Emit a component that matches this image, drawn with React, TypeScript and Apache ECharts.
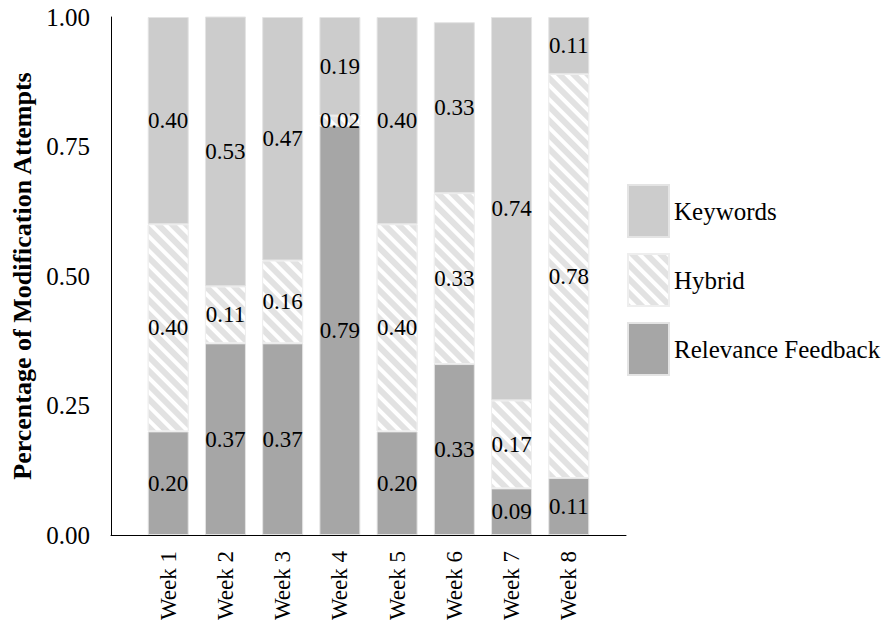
import React, { useEffect, useRef } from "react";
import * as echarts from "echarts";

const weeks = ["Week 1", "Week 2", "Week 3", "Week 4", "Week 5", "Week 6", "Week 7", "Week 8"];
const keywords = [0.4, 0.53, 0.47, 0.19, 0.4, 0.33, 0.74, 0.11];
const hybrid = [0.4, 0.11, 0.16, 0.02, 0.4, 0.33, 0.17, 0.78];
const relevanceFeedback = [0.2, 0.37, 0.37, 0.79, 0.2, 0.33, 0.09, 0.11];
const yTicks = [0, 0.25, 0.5, 0.75, 1];

const FONT = "Liberation Serif";

// blank slots either side of the weeks leave half a bar spacing at each end
const pad = <T,>(arr: T[]): (T | null)[] => [null, ...arr, null];

export default function App() {
  const ref = useRef<HTMLDivElement>(null);

  useEffect(() => {
    if (!ref.current) return;
    const chart = echarts.init(ref.current, undefined, { renderer: "svg" });

    const label = {
      show: true,
      position: "inside" as const,
      color: "#000",
      fontFamily: FONT,
      fontSize: 23,
      formatter: (p: any) => (p.value == null ? "" : Number(p.value).toFixed(2)),
    };

    chart.setOption({
      animation: false,
      backgroundColor: "#fff",
      textStyle: { fontFamily: FONT },
      grid: { left: 111, top: 17, width: 515, height: 518, containLabel: false },
      legend: {
        orient: "vertical",
        left: 627,
        top: 184,
        itemWidth: 41,
        itemHeight: 52,
        itemGap: 15,
        padding: 0,
        icon: "rect",
        data: ["Keywords", "Hybrid", "Relevance Feedback"],
        textStyle: { fontFamily: FONT, fontSize: 25, color: "#000" },
      },
      xAxis: {
        type: "category",
        boundaryGap: false,
        data: ["", ...weeks, ""],
        axisLine: { lineStyle: { color: "#000", width: 1 } },
        axisTick: { show: false },
        axisLabel: {
          interval: 0,
          rotate: 90,
          margin: 16,
          color: "#000",
          fontFamily: FONT,
          fontSize: 23,
        },
      },
      yAxis: {
        type: "value",
        min: 0,
        max: 1,
        interval: 0.25,
        name: "Percentage of Modification Attempts",
        nameLocation: "middle",
        nameGap: 63,
        nameTextStyle: { fontFamily: FONT, fontSize: 26, fontWeight: "bold", color: "#000" },
        axisLine: { show: true, lineStyle: { color: "#000", width: 1 } },
        axisTick: { show: false },
        splitLine: { show: false },
        axisLabel: {
          margin: 21,
          color: "#000",
          fontFamily: FONT,
          fontSize: 25,
          formatter: (v: number) => (yTicks.includes(v) ? v.toFixed(2) : ""),
        },
      },
      series: [
        {
          name: "Relevance Feedback",
          type: "bar",
          stack: "total",
          barWidth: 41,
          data: pad(relevanceFeedback),
          itemStyle: { color: "#a6a6a6", borderColor: "#e4e4e4", borderWidth: 1 },
          label,
        },
        {
          name: "Hybrid",
          type: "bar",
          stack: "total",
          barWidth: 41,
          data: pad(hybrid),
          itemStyle: {
            color: "#e2e2e2",
            borderColor: "#eeeeee",
            borderWidth: 1,
            decal: {
              symbol: "rect",
              symbolSize: 1,
              color: "#ffffff",
              dashArrayX: [1, 0],
              dashArrayY: [4, 6],
              rotation: Math.PI / 4,
            },
          },
          label,
        },
        {
          name: "Keywords",
          type: "bar",
          stack: "total",
          barWidth: 41,
          data: pad(keywords),
          itemStyle: { color: "#cccccc", borderColor: "#e4e4e4", borderWidth: 1 },
          label,
        },
      ],
    });

    return () => chart.dispose();
  }, []);

  return (
    <div
      ref={ref}
      style={{ position: "fixed", left: 0, top: 0, width: 885, height: 628, background: "#fff" }}
    />
  );
}
